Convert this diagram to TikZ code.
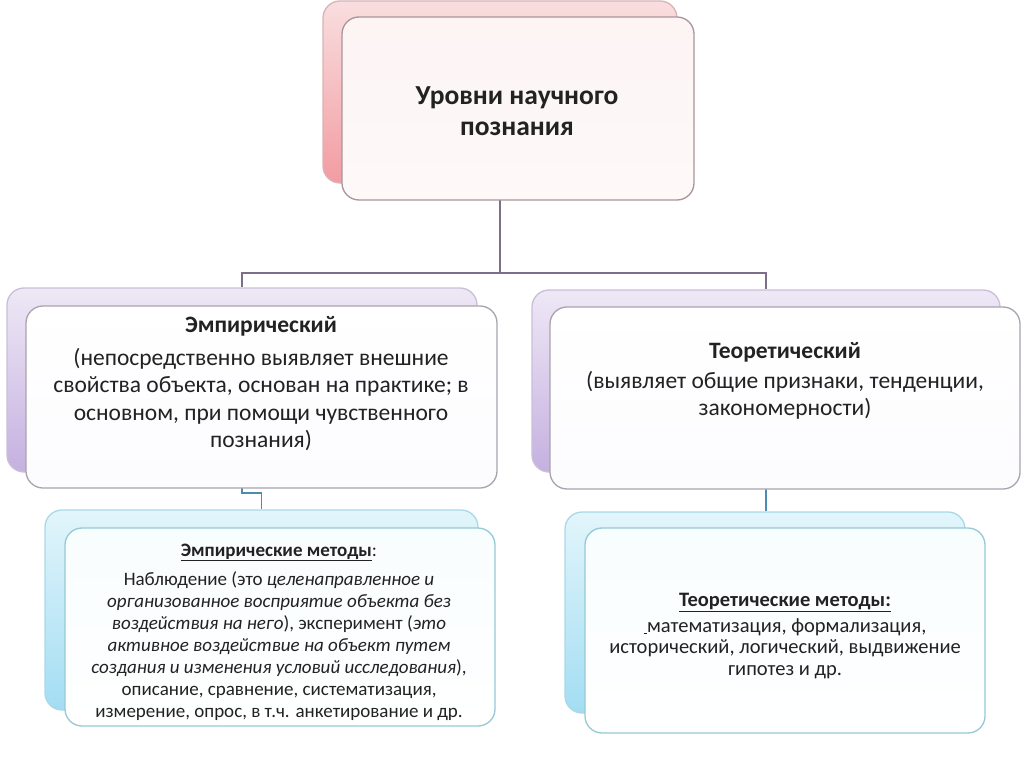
\documentclass[tikz,border=0pt]{standalone}
\usepackage{fontspec}
\setmainfont{Carlito}
\usetikzlibrary{backgrounds}
\definecolor{pinkTop}{HTML}{F9DEDF}
\definecolor{pinkBot}{HTML}{F29CA2}
\definecolor{pinkEdge}{HTML}{D9B3B6}
\definecolor{pinkFill}{HTML}{FDF4F4}
\definecolor{pinkFront}{HTML}{A8959B}
\definecolor{lavTop}{HTML}{EEE8F6}
\definecolor{lavBot}{HTML}{C5B0E0}
\definecolor{lavEdge}{HTML}{C9BFD9}
\definecolor{lavFill}{HTML}{FCFBFE}
\definecolor{lavFront}{HTML}{A9A3AD}
\definecolor{cyTop}{HTML}{E2F5FB}
\definecolor{cyBot}{HTML}{A3DDF3}
\definecolor{cyEdge}{HTML}{A9D9E8}
\definecolor{cyFill}{HTML}{F8FDFE}
\definecolor{cyFront}{HTML}{96C9D6}
\definecolor{lineP}{HTML}{7D6E8A}
\definecolor{lineB}{HTML}{4C8CB0}
\definecolor{txt}{HTML}{222222}
\tikzset{
  box/.style={rounded corners=17pt, inner sep=0pt, line width=1.3pt},
  backpink/.style={box, draw=pinkEdge, top color=pinkTop, bottom color=pinkBot},
  frontpink/.style={box, draw=pinkFront, top color=pinkFill, bottom color=pinkFill!60!white},
  backlav/.style={box, draw=lavEdge, top color=lavTop, bottom color=lavBot},
  frontlav/.style={box, draw=lavFront, top color=white, bottom color=lavFill},
  backcy/.style={box, draw=cyEdge, top color=cyTop, bottom color=cyBot},
  frontcy/.style={box, draw=cyFront, top color=cyFill, bottom color=white},
  label/.style={inner sep=0pt, align=center, text=txt},
  conP/.style={draw=lineP, line width=1.8pt},
  conB/.style={draw=lineB, line width=1.8pt}
}
\begin{document}
\begin{tikzpicture}[x=1pt,y=-1pt]
\useasboundingbox (0,0) rectangle (1024,767);
% top
\node[backpink, minimum width=354pt, minimum height=182pt] (topB) at (500,92) {};
\node[frontpink, minimum width=352pt, minimum height=183pt] (topF) at (518,108.5) {};
\node[label, font=\fontsize{27.5}{31}\selectfont\bfseries] (topT) at (517,111) {Уровни научного\\познания};
% middle left
\node[backlav, minimum width=470pt, minimum height=184pt] (empB) at (242,380) {};
\node[frontlav, minimum width=471pt, minimum height=182pt] (empF) at (261.5,397) {};
\node[label, font=\fontsize{23.5}{27.5}\selectfont] (empT) at (261,384)
 {\textbf{Эмпирический}\\[5pt](непосредственно выявляет внешние\\свойства объекта, основан на практике; в\\основном, при помощи чувственного\\познания)};
% middle right
\node[backlav, minimum width=468pt, minimum height=182pt] (teoB) at (766,381) {};
\node[frontlav, minimum width=470pt, minimum height=182pt] (teoF) at (785,398) {};
\node[label, font=\fontsize{23.5}{27}\selectfont] (teoT) at (785,381)
 {\textbf{Теоретический}\\[3pt](выявляет общие признаки, тенденции,\\закономерности)};
% bottom left
\node[backcy, minimum width=433pt, minimum height=200pt] (emmB) at (261.5,610) {};
\node[frontcy, minimum width=430pt, minimum height=198pt] (emmF) at (280,627) {};
\node[label, font=\fontsize{19}{22}\selectfont] (emmT) at (279,632)
 {\textbf{\underline{Эмпирические методы}}:\\[7pt]Наблюдение (это \textit{целенаправленное и}\\\textit{организованное восприятие объекта без}\\\textit{воздействия на него}), эксперимент (\textit{это}\\\textit{активное воздействие на объект путем}\\\textit{создания и изменения условий исследования}),\\описание, сравнение, систематизация,\\измерение, опрос, в т.ч. анкетирование и др.};
% bottom right
\node[backcy, minimum width=400pt, minimum height=201pt] (tmB) at (765,612.5) {};
\node[frontcy, minimum width=400pt, minimum height=205pt] (tmF) at (785,630.5) {};
\node[label, font=\fontsize{20.5}{21.5}\selectfont] (tmT) at (785,636)
 {\textbf{\underline{Теоретические методы:}}\\[4pt]\underline{\,}математизация, формализация,\\исторический, логический, выдвижение\\гипотез и др.};
% connectors
\begin{pgfonlayer}{background}
\coordinate (j) at (500,273);
\coordinate (k) at (242,493);
\draw[conP] (topB.south) -- (j);
\draw[conP] (j) -| (empB.north);
\draw[conP] (j) -| (teoB.north);
\draw[conB] (empB.south) -- (k) -| (emmB.north);
\draw[conB] (teoB.south) -- (teoB.south |- tmB.north);
\end{pgfonlayer}
\end{tikzpicture}
\end{document}
